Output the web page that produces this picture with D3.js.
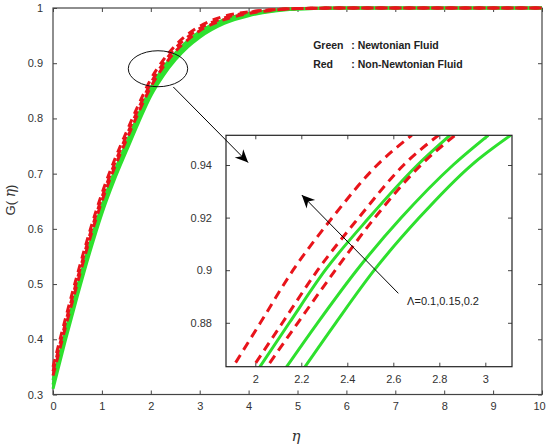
<!DOCTYPE html>
<html>
<head>
<meta charset="utf-8">
<script src="https://cdn.jsdelivr.net/npm/d3@7"></script>
<style>
  body { margin: 0; background: #fff; }
  svg { display: block; font-family: "Liberation Sans", Arial, sans-serif; }
</style>
</head>
<body>
<svg id="chart" width="546" height="444"></svg>
<script>
// MAIN PLOT DATA
const eta = [0, 0.25, 0.5, 0.75, 1, 1.25, 1.5, 1.75, 2, 2.25, 2.5, 2.75, 3, 3.5, 4, 4.5, 5, 6, 7, 8, 9, 10];
const green1 = [0.326, 0.413, 0.495, 0.572, 0.642, 0.702, 0.755, 0.807, 0.855, 0.891, 0.918, 0.940, 0.957, 0.979, 0.990, 0.996, 0.999, 1, 1, 1, 1, 1];
const green2 = [0.318, 0.405, 0.487, 0.565, 0.635, 0.695, 0.748, 0.800, 0.848, 0.884, 0.912, 0.934, 0.952, 0.975, 0.988, 0.995, 0.998, 1, 1, 1, 1, 1];
const green3 = [0.310, 0.397, 0.479, 0.557, 0.628, 0.688, 0.741, 0.793, 0.841, 0.877, 0.906, 0.929, 0.947, 0.972, 0.986, 0.994, 0.998, 1, 1, 1, 1, 1];
const red1 = [0.350, 0.436, 0.518, 0.595, 0.664, 0.723, 0.775, 0.825, 0.871, 0.905, 0.932, 0.952, 0.967, 0.985, 0.993, 0.997, 0.999, 1, 1, 1, 1, 1];
const red2 = [0.342, 0.428, 0.510, 0.588, 0.657, 0.716, 0.768, 0.818, 0.864, 0.899, 0.927, 0.947, 0.963, 0.982, 0.992, 0.997, 0.999, 1, 1, 1, 1, 1];
const red3 = [0.334, 0.420, 0.502, 0.581, 0.650, 0.709, 0.761, 0.811, 0.857, 0.893, 0.921, 0.942, 0.959, 0.979, 0.990, 0.996, 0.999, 1, 1, 1, 1, 1];

const xTicks = [0, 1, 2, 3, 4, 5, 6, 7, 8, 9, 10];
const yTicks = [0.3, 0.4, 0.5, 0.6, 0.7, 0.8, 0.9, 1];

// INSET DATA (zoom of the circled region)
const insetLevels = [0.86, 0.88, 0.90, 0.92, 0.94, 0.9513];
const insetGreen1 = [1.995, 2.148, 2.304, 2.495, 2.705, 2.846];
const insetGreen2 = [2.110, 2.271, 2.441, 2.635, 2.860, 3.013];
const insetGreen3 = [2.190, 2.350, 2.517, 2.713, 2.940, 3.110];
const insetRed1 = [1.880, 2.022, 2.164, 2.335, 2.530, 2.680];
const insetRed2 = [1.966, 2.118, 2.271, 2.450, 2.645, 2.796];
const insetRed3 = [2.025, 2.185, 2.348, 2.520, 2.720, 2.868];

const insetXTicks = [2, 2.2, 2.4, 2.6, 2.8, 3];
const insetYTicks = [0.88, 0.9, 0.92, 0.94];

const GREEN = '#2ee02e';
const RED = '#e8141b';
const AXIS = '#444';

const svg = d3.select('#chart');

//SCALES
const x = d3.scaleLinear().domain([0, 10]).range([53, 542]);
const y = d3.scaleLinear().domain([0.3, 1]).range([394.5, 8]);

const ix = d3.scaleLinear().domain([1.8726, 3.116]).range([226, 512]);
const iy = d3.scaleLinear().domain([0.8633, 0.9513]).range([366.7, 135.3]);

//MAIN AXES
const styleAxis = (g) => {
    g.select('.domain').remove();
    g.selectAll('.tick line').attr('stroke', AXIS);
    g.selectAll('.tick text').attr('fill', '#333').style('font-size', '11px');
}

svg.append('g')
    .attr('transform', `translate(0,${y.range()[0]})`)
    .call(d3.axisBottom(x).tickValues(xTicks).tickSizeInner(-4).tickSizeOuter(0).tickPadding(8).tickFormat(d3.format('d')))
    .call(styleAxis)
    .selectAll('.tick text').filter(d => d === 10).attr('dx', -3);
svg.append('g')
    .attr('transform', `translate(0,${y.range()[1]})`)
    .call(d3.axisTop(x).tickValues(xTicks).tickSizeInner(-4).tickSizeOuter(0).tickFormat(''))
    .call(styleAxis);
svg.append('g')
    .attr('transform', `translate(${x.range()[0]},0)`)
    .call(d3.axisLeft(y).tickValues(yTicks).tickSizeInner(-4).tickSizeOuter(0).tickPadding(10).tickFormat(d => d === 1 ? '1' : d3.format('.1f')(d)))
    .call(styleAxis);
svg.append('g')
    .attr('transform', `translate(${x.range()[1]},0)`)
    .call(d3.axisRight(y).tickValues(yTicks).tickSizeInner(-4).tickSizeOuter(0).tickFormat(''))
    .call(styleAxis);

svg.append('rect')
    .attr('x', x(0)).attr('y', y(1))
    .attr('width', x(10) - x(0)).attr('height', y(0.3) - y(1))
    .attr('fill', 'none').attr('stroke', AXIS).attr('stroke-width', 1.2);

//AXIS LABELS
svg.append('text')
    .attr('x', 296).attr('y', 441)
    .attr('text-anchor', 'middle')
    .style('font-family', '"DejaVu Serif", "Liberation Serif", serif')
    .style('font-style', 'italic').style('font-size', '15px').attr('fill', '#333')
    .text('η');

const yLabel = svg.append('text')
    .attr('transform', 'translate(15,200) rotate(-90)')
    .attr('text-anchor', 'middle').attr('fill', '#333').style('font-size', '13px');
yLabel.append('tspan').text('G( ');
yLabel.append('tspan')
    .style('font-family', '"DejaVu Serif", "Liberation Serif", serif')
    .style('font-style', 'italic').style('font-size', '14px')
    .text('η');
yLabel.append('tspan').text(')');

//MAIN CURVES
const mainLine = (vals) => d3.line()
    .x((d, i) => x(eta[i]))
    .y(d => y(d))
    .curve(d3.curveMonotoneX)(vals);

[green1, green2, green3].forEach(vals => {
    svg.append('path').attr('d', mainLine(vals))
        .attr('fill', 'none').attr('stroke', GREEN).attr('stroke-width', 3);
});
[red1, red2, red3].forEach(vals => {
    svg.append('path').attr('d', mainLine(vals))
        .attr('fill', 'none').attr('stroke', RED).attr('stroke-width', 3)
        .attr('stroke-dasharray', '8,6');
});

//LEGEND TEXT
const legend = svg.append('g').style('font-size', '10.5px').style('font-weight', 'bold').attr('fill', '#222');
legend.append('text').attr('x', x(5.32)).attr('y', y(0.926)).text('Green');
legend.append('text').attr('x', x(6.1)).attr('y', y(0.926)).text(': Newtonian Fluid');
legend.append('text').attr('x', x(5.32)).attr('y', y(0.8915)).text('Red');
legend.append('text').attr('x', x(6.1)).attr('y', y(0.8915)).text(': Non-Newtonian Fluid');

//ELLIPSE
svg.append('ellipse')
    .attr('cx', x(2.147)).attr('cy', y(0.89))
    .attr('rx', 29.7).attr('ry', 18)
    .attr('fill', 'none').attr('stroke', '#111').attr('stroke-width', 1);

//INSET
svg.append('defs').append('clipPath').attr('id', 'inset-clip')
    .append('rect')
    .attr('x', ix.range()[0]).attr('y', iy.range()[1])
    .attr('width', ix.range()[1] - ix.range()[0]).attr('height', iy.range()[0] - iy.range()[1]);

svg.append('rect')
    .attr('x', ix.range()[0]).attr('y', iy.range()[1])
    .attr('width', ix.range()[1] - ix.range()[0]).attr('height', iy.range()[0] - iy.range()[1])
    .attr('fill', '#fff');

svg.append('g')
    .attr('transform', `translate(0,${iy.range()[0]})`)
    .call(d3.axisBottom(ix).tickValues(insetXTicks).tickSizeInner(-4).tickSizeOuter(0).tickPadding(9).tickFormat(d3.format('~g')))
    .call(styleAxis);
svg.append('g')
    .attr('transform', `translate(0,${iy.range()[1]})`)
    .call(d3.axisTop(ix).tickValues(insetXTicks).tickSizeInner(-4).tickSizeOuter(0).tickFormat(''))
    .call(styleAxis);
svg.append('g')
    .attr('transform', `translate(${ix.range()[0]},0)`)
    .call(d3.axisLeft(iy).tickValues(insetYTicks).tickSizeInner(-4).tickSizeOuter(0).tickPadding(14).tickFormat(d3.format('~g')))
    .call(styleAxis);
svg.append('g')
    .attr('transform', `translate(${ix.range()[1]},0)`)
    .call(d3.axisRight(iy).tickValues(insetYTicks).tickSizeInner(-4).tickSizeOuter(0).tickFormat(''))
    .call(styleAxis);

const insetLine = (vals) => d3.line()
    .x(d => ix(d))
    .y((d, i) => iy(insetLevels[i]))
    .curve(d3.curveMonotoneX)(vals);

const insetCurves = svg.append('g').attr('clip-path', 'url(#inset-clip)');
[insetGreen1, insetGreen2, insetGreen3].forEach(vals => {
    insetCurves.append('path').attr('d', insetLine(vals))
        .attr('fill', 'none').attr('stroke', GREEN).attr('stroke-width', 3);
});
[insetRed1, insetRed2, insetRed3].forEach(vals => {
    insetCurves.append('path').attr('d', insetLine(vals))
        .attr('fill', 'none').attr('stroke', RED).attr('stroke-width', 3)
        .attr('stroke-dasharray', '9,6');
});

svg.append('rect')
    .attr('x', ix.range()[0]).attr('y', iy.range()[1])
    .attr('width', ix.range()[1] - ix.range()[0]).attr('height', iy.range()[0] - iy.range()[1])
    .attr('fill', 'none').attr('stroke', '#222').attr('stroke-width', 1.2);

//ARROWS
svg.select('defs').append('marker')
    .attr('id', 'head')
    .attr('viewBox', '-14 -7 16 14')
    .attr('markerWidth', 16).attr('markerHeight', 14)
    .attr('markerUnits', 'userSpaceOnUse')
    .attr('refX', 0).attr('refY', 0)
    .attr('orient', 'auto')
    .append('path')
    .attr('d', 'M0,0 L-13,-6 L-9,0 L-13,6 Z')
    .attr('fill', '#000');

svg.append('line')
    .attr('x1', x(2.46)).attr('y1', y(0.857))
    .attr('x2', x(3.99)).attr('y2', y(0.720))
    .attr('stroke', '#000').attr('stroke-width', 1)
    .attr('marker-end', 'url(#head)');

svg.append('line')
    .attr('x1', ix(2.622)).attr('y1', iy(0.8912))
    .attr('x2', ix(2.202)).attr('y2', iy(0.9286))
    .attr('stroke', '#000').attr('stroke-width', 1)
    .attr('marker-end', 'url(#head)');

svg.append('text')
    .attr('x', ix(2.66)).attr('y', iy(0.8867))
    .attr('fill', '#222').style('font-size', '11px')
    .text('Λ=0.1,0.15,0.2');
</script>
</body>
</html>
